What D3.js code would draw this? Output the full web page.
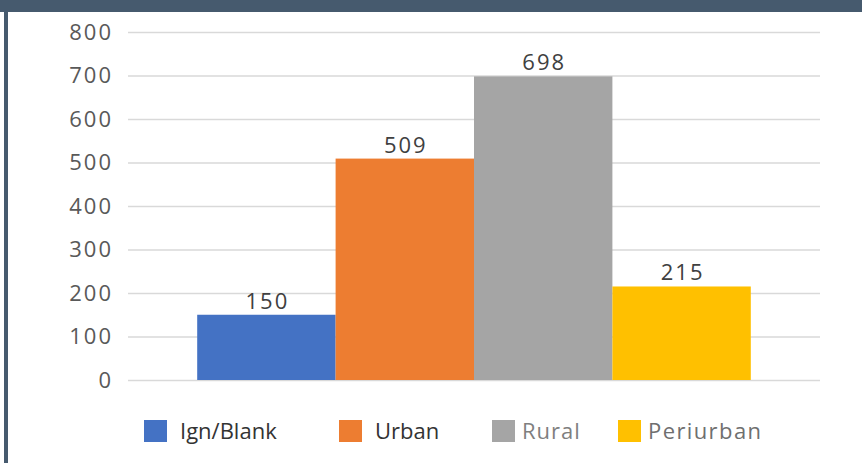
<!DOCTYPE html>
<html>
<head>
<meta charset="utf-8">
<script src="https://cdn.jsdelivr.net/npm/d3@7"></script>
<style>
  body { margin: 0; background: #fff; }
  svg { display: block; font-family: "Open Sans", sans-serif; }
</style>
</head>
<body>
<div id="chart"></div>
<script>
// data
const series = ["Ign/Blank", "Urban", "Rural", "Periurban"];
const values = [150, 509, 698, 215];
const colors = ["#4472c4", "#ed7d31", "#a5a5a5", "#ffc000"];
const yTicks = [0, 100, 200, 300, 400, 500, 600, 700, 800];

const W = 862, H = 463;
const plot = { left: 128, right: 820, top: 32, bottom: 380 };

const svg = d3.select("#chart")
    .append("svg")
    .attr("width", W)
    .attr("height", H);

// frame
svg.append("rect").attr("x", 0).attr("y", 0).attr("width", W).attr("height", 12).attr("fill", "#465a6e");
svg.append("rect").attr("x", 4).attr("y", 0).attr("width", 4).attr("height", H).attr("fill", "#465a6e");

const y = d3.scaleLinear().domain([0, 800]).range([plot.bottom, plot.top]);
const x = d3.scaleBand()
    .domain(series)
    .range([plot.left, plot.right])
    .paddingInner(0)
    .paddingOuter(0.5);

// gridlines + y labels
const yAxis = svg.append("g")
    .attr("transform", `translate(${plot.left},0)`)
    .call(d3.axisLeft(y).tickValues(yTicks).tickSize(-(plot.right - plot.left)).tickPadding(15));
yAxis.select(".domain").remove();
yAxis.selectAll("line").attr("stroke", "#d9d9d9").attr("stroke-width", 1.5);
yAxis.selectAll("text")
    .attr("fill", "#595959")
    .style("font-size", "22px")
    .style("letter-spacing", "2px")
    .style("font-family", "'Open Sans', sans-serif");

// bars
svg.selectAll(".bar")
    .data(values)
    .join("rect")
    .attr("class", "bar")
    .attr("x", (d, i) => x(series[i]))
    .attr("width", x.bandwidth())
    .attr("y", d => y(d))
    .attr("height", d => y(0) - y(d))
    .attr("fill", (d, i) => colors[i]);

// value labels
svg.selectAll(".val")
    .data(values)
    .join("text")
    .attr("class", "val")
    .attr("x", (d, i) => x(series[i]) + x.bandwidth() / 2 + 1)
    .attr("y", d => y(d) - 6)
    .attr("text-anchor", "middle")
    .attr("fill", "#404040")
    .style("font-size", "22px")
    .style("letter-spacing", "2px")
    .text(d => d);

// legend
const legendX = [144, 339, 492, 618];
const legendTextX = [36, 36, 30, 30];
const legendSpacing = [0, 0, 1, 1.4];
const legendText = ["#333333", "#333333", "#7f7f7f", "#6f6f6f"];
const leg = svg.selectAll(".leg")
    .data(series)
    .join("g")
    .attr("class", "leg")
    .attr("transform", (d, i) => `translate(${legendX[i]},420)`);
leg.append("rect")
    .attr("width", 23)
    .attr("height", 22)
    .attr("fill", (d, i) => colors[i]);
leg.append("text")
    .attr("x", (d, i) => legendTextX[i])
    .attr("y", 19)
    .attr("fill", (d, i) => legendText[i])
    .style("font-size", "22px")
    .style("letter-spacing", (d, i) => legendSpacing[i] + "px")
    .text(d => d);
</script>
</body>
</html>
